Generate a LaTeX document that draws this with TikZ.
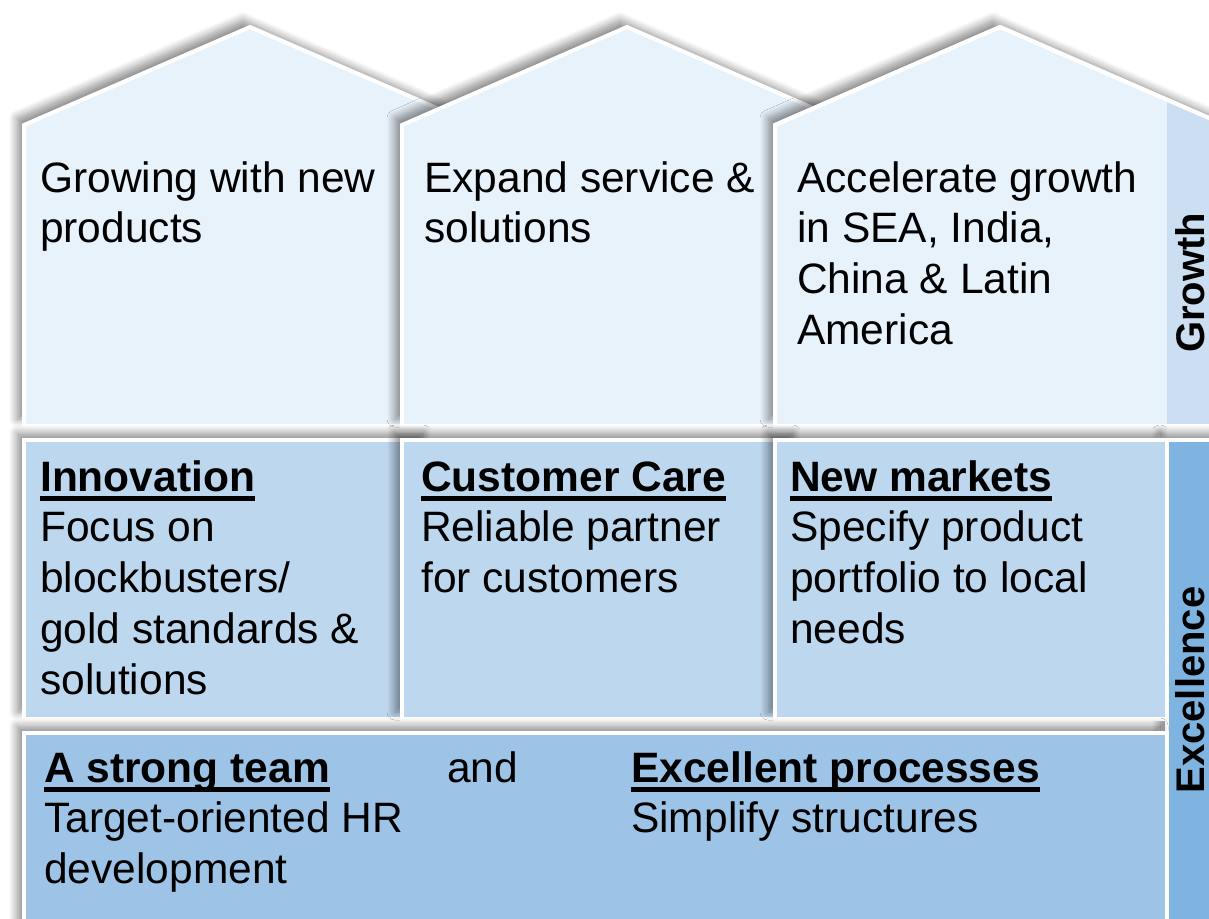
\documentclass[tikz,border=0pt]{standalone}
\usepackage{fontspec}
\setmainfont{Liberation Sans}
\usetikzlibrary{shadows.blur}
\definecolor{houseC}{HTML}{E8F2FA}
\definecolor{growC}{HTML}{CCDEF1}
\definecolor{midC}{HTML}{BDD7EE}
\definecolor{botC}{HTML}{9DC3E6}
\definecolor{excC}{HTML}{7FB4E0}
\newcommand\hdline[1]{\setbox0\hbox{\bfseries #1}\rlap{\rule[-9.5pt]{\wd0}{4.5pt}}\box0}
\tikzset{
  panel/.style={draw=white, line width=4pt, line join=miter,
    blur shadow={shadow xshift=-7pt, shadow yshift=7pt, shadow blur radius=8pt,
      shadow blur steps=10, shadow opacity=45}},
  txt/.style={anchor=base west, inner sep=0pt, align=left,
    font=\fontsize{42.5}{50.8}\selectfont},
  lbl/.style={inner sep=0pt, rotate=90, anchor=base,
    font=\fontsize{40}{48}\selectfont\bfseries},
}
\begin{document}
\begin{tikzpicture}[x=1pt,y=-1pt]
\useasboundingbox (0,0) rectangle (1209,918);
\clip (0,0) rectangle (1209,918);
% houses
\path[panel, fill=houseC] (24,426) -- (24,125) -- (250,27) -- (476,125) -- (476,426) -- cycle;
\path[panel, fill=houseC] (402,426) -- (402,125) -- (627,27) -- (852,125) -- (852,426) -- cycle;
\path[panel, fill=houseC] (775,426) -- (775,125) -- (1000,27) -- (1225,125) -- (1225,426) -- cycle;
\begin{scope}
  \clip (775,426) -- (775,125) -- (1000,27) -- (1225,125) -- (1225,426) -- cycle;
  \fill[growC] (1167,0) rectangle (1230,430);
\end{scope}
\draw[white, line width=4pt, line join=miter] (775,426) -- (775,125) -- (1000,27) -- (1225,125) -- (1225,426) -- cycle;
% excellence strip
\path[panel, fill=excC] (1167,440) rectangle (1230,930);
% middle boxes
\path[panel, fill=midC] (24,440) rectangle (430,719);
\path[panel, fill=midC] (402,440) rectangle (800,719);
\path[panel, fill=midC] (775,440) rectangle (1167,719);
% bottom band
\path[panel, fill=botC] (24,733) rectangle (1167,930);
% texts (base anchor = baseline of last line)
\node[txt] (t1) at (40,242.8) {Growing with new\\products};
\node[txt] (t2) at (424,242.8) {Expand service \&\\solutions};
\node[txt] (t3) at (797,344.4) {Accelerate growth\\in SEA, India,\\China \& Latin\\America};
\node[txt] (m1t) at (40,694.2) {\hdline{Innovation}\\Focus on\\blockbusters/\\gold standards \&\\solutions};
\node[txt] (m2t) at (421,592.6) {\hdline{Customer Care}\\Reliable partner\\for customers};
\node[txt] (m3t) at (790,643.4) {\hdline{New markets}\\Specify product\\portfolio to local\\needs};
\node[txt] (b1) at (44,883.6) {\hdline{A strong team}\\Target-oriented HR\\development};
\node[txt] (and) at (447,782) {and};
\node[txt] (b2) at (631,832.8) {\hdline{Excellent processes}\\Simplify structures};
\node[lbl] (g) at (1204,283) {Growth};
\node[lbl] (e) at (1204,690) {Excellence};
\end{tikzpicture}
\end{document}
